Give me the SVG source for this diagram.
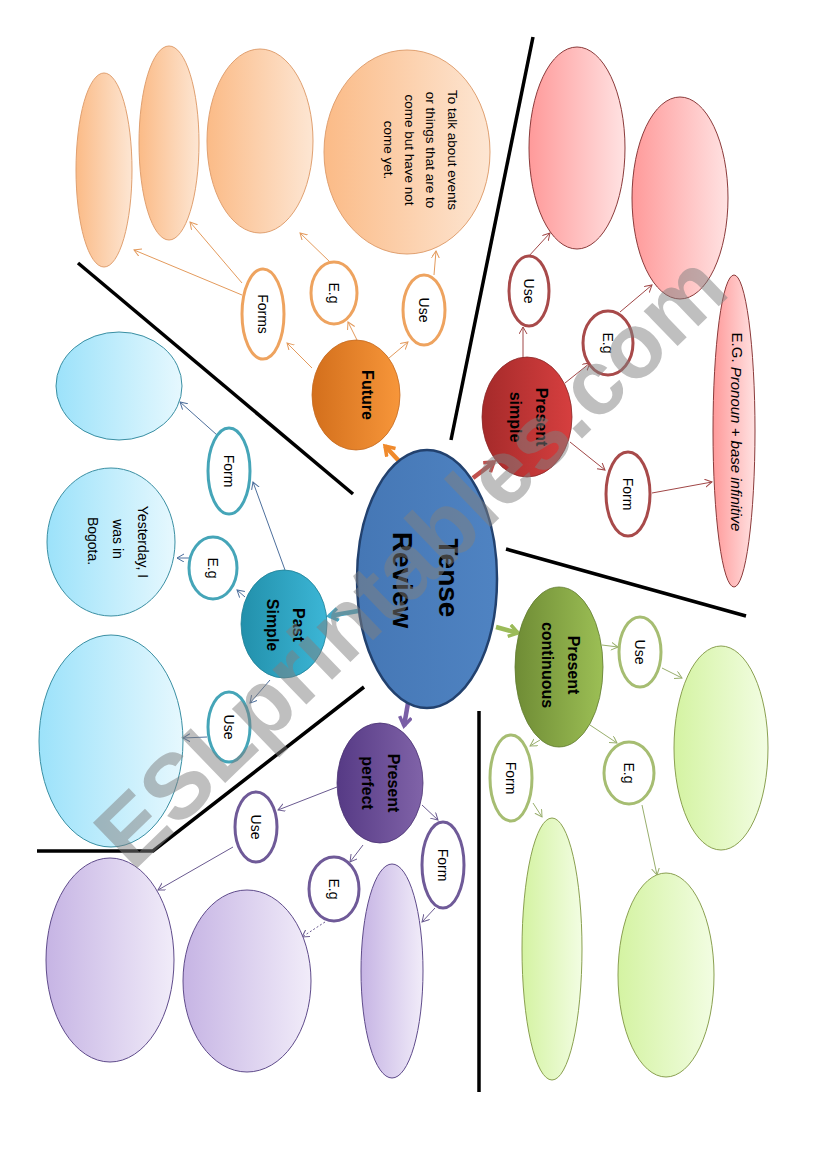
<svg xmlns="http://www.w3.org/2000/svg" width="826" height="1169" viewBox="0 0 826 1169">
<style>
  text { font-family: "Liberation Sans", Arial, sans-serif; fill: #000; }
  .lbl { font-size: 14px; text-anchor: middle; dominant-baseline: central; }
  .hd { font-size: 16px; font-weight: bold; text-anchor: middle; dominant-baseline: central; }
  .title { font-size: 28px; font-weight: bold; text-anchor: middle; dominant-baseline: central; }
  .note { font-size: 13.5px; text-anchor: middle; dominant-baseline: central; }
  .divider { fill: none; stroke: #000; stroke-width: 3.5; }
  .sm { fill: #fff; stroke-width: 3; }
  .thin { fill: none; stroke-width: 1; }
  .thick { fill: none; stroke-width: 4.5; }
  .or { stroke: #eea35f; }
  .rd { stroke: #a84a4a; }
  .cy { stroke: #45a5b8; }
  .gr { stroke: #a6bd72; }
  .pu { stroke: #6f5a98; }
  .lor { stroke: #e39a5c; }
  .lrd { stroke: #a04646; }
  .lcy { stroke: #4d6f9c; }
  .lgr { stroke: #98ae6c; }
  .lpu { stroke: #6a5a90; }
</style>
<defs>
  <linearGradient id="g-blue" x1="0" y1="0" x2="1" y2="0"><stop offset="0" stop-color="#4577b5"/><stop offset="1" stop-color="#4f83c2"/></linearGradient>
  <linearGradient id="g-or" x1="0" y1="0" x2="1" y2="0"><stop offset="0" stop-color="#d36f1c"/><stop offset="1" stop-color="#f7963a"/></linearGradient>
  <linearGradient id="g-rd" x1="0" y1="0" x2="1" y2="0"><stop offset="0" stop-color="#a52a2a"/><stop offset="1" stop-color="#d63f3f"/></linearGradient>
  <linearGradient id="g-cy" x1="0" y1="0" x2="1" y2="0"><stop offset="0" stop-color="#2290ab"/><stop offset="1" stop-color="#3cb6d6"/></linearGradient>
  <linearGradient id="g-gr" x1="0" y1="0" x2="1" y2="0"><stop offset="0" stop-color="#6f8c35"/><stop offset="1" stop-color="#9cbf55"/></linearGradient>
  <linearGradient id="g-pu" x1="0" y1="0" x2="1" y2="0"><stop offset="0" stop-color="#563a85"/><stop offset="1" stop-color="#8063a8"/></linearGradient>
  <linearGradient id="l-or" x1="0" y1="0" x2="1" y2="0"><stop offset="0" stop-color="#fbbb87"/><stop offset="1" stop-color="#fde6d3"/></linearGradient>
  <linearGradient id="l-rd" x1="0" y1="0" x2="1" y2="0"><stop offset="0" stop-color="#ff9a9a"/><stop offset="1" stop-color="#ffe2e2"/></linearGradient>
  <linearGradient id="l-cy" x1="0" y1="0" x2="1" y2="0"><stop offset="0" stop-color="#9ce2fa"/><stop offset="1" stop-color="#e6f8fe"/></linearGradient>
  <linearGradient id="l-gr" x1="0" y1="0" x2="1" y2="0"><stop offset="0" stop-color="#d4f3a2"/><stop offset="1" stop-color="#f2fde2"/></linearGradient>
  <linearGradient id="l-pu" x1="0" y1="0" x2="1" y2="0"><stop offset="0" stop-color="#c6b4e4"/><stop offset="1" stop-color="#f1ecf9"/></linearGradient>
  <marker id="a-or" markerUnits="userSpaceOnUse" markerWidth="10" markerHeight="10" refX="7" refY="4" orient="auto"><path d="M0,0 L7,4 L0,8" fill="none" stroke="#e39a5c" stroke-width="1"/></marker>
  <marker id="a-rd" markerUnits="userSpaceOnUse" markerWidth="10" markerHeight="10" refX="7" refY="4" orient="auto"><path d="M0,0 L7,4 L0,8" fill="none" stroke="#a04646" stroke-width="1"/></marker>
  <marker id="a-cy" markerUnits="userSpaceOnUse" markerWidth="10" markerHeight="10" refX="7" refY="4" orient="auto"><path d="M0,0 L7,4 L0,8" fill="none" stroke="#4d6f9c" stroke-width="1"/></marker>
  <marker id="a-gr" markerUnits="userSpaceOnUse" markerWidth="10" markerHeight="10" refX="7" refY="4" orient="auto"><path d="M0,0 L7,4 L0,8" fill="none" stroke="#98ae6c" stroke-width="1"/></marker>
  <marker id="a-pu" markerUnits="userSpaceOnUse" markerWidth="10" markerHeight="10" refX="7" refY="4" orient="auto"><path d="M0,0 L7,4 L0,8" fill="none" stroke="#6a5a90" stroke-width="1"/></marker>
  <marker id="t-or" markerUnits="userSpaceOnUse" markerWidth="14" markerHeight="16" refX="10" refY="7" orient="auto"><path d="M1,1 L10,7 L1,13" fill="none" stroke="#f08a2c" stroke-width="3.5"/></marker>
  <marker id="t-rd" markerUnits="userSpaceOnUse" markerWidth="14" markerHeight="16" refX="10" refY="7" orient="auto"><path d="M1,1 L10,7 L1,13" fill="none" stroke="#c0504d" stroke-width="3.5"/></marker>
  <marker id="t-cy" markerUnits="userSpaceOnUse" markerWidth="14" markerHeight="16" refX="10" refY="7" orient="auto"><path d="M1,1 L10,7 L1,13" fill="none" stroke="#45a9c6" stroke-width="3.5"/></marker>
  <marker id="t-gr" markerUnits="userSpaceOnUse" markerWidth="14" markerHeight="16" refX="10" refY="7" orient="auto"><path d="M1,1 L10,7 L1,13" fill="none" stroke="#9bbb59" stroke-width="3.5"/></marker>
  <marker id="t-pu" markerUnits="userSpaceOnUse" markerWidth="14" markerHeight="16" refX="10" refY="7" orient="auto"><path d="M1,1 L10,7 L1,13" fill="none" stroke="#7a5fa6" stroke-width="3.5"/></marker>
</defs>
<rect width="826" height="1169" fill="#fff"/>

<!-- dividers -->
<g id="dividers">
  <line class="divider" x1="533" y1="37" x2="451" y2="440"/>
  <line class="divider" x1="78" y1="263" x2="353" y2="494"/>
  <line class="divider" x1="506" y1="549" x2="746" y2="616"/>
  <line class="divider" x1="479" y1="711" x2="479" y2="1092"/>
  <polyline class="divider" points="37,851 153,851 364,687"/>
</g>

<!-- connectors -->
<g id="connectors">
  <!-- from center -->
  <line class="thick" stroke="#f08a2c" x1="399" y1="461" x2="385" y2="446" marker-end="url(#t-or)"/>
  <line class="thick" stroke="#c0504d" x1="473" y1="478" x2="494" y2="462" marker-end="url(#t-rd)"/>
  <line class="thick" stroke="#45a9c6" x1="358" y1="611" x2="329" y2="616" marker-end="url(#t-cy)"/>
  <line class="thick" stroke="#9bbb59" x1="496" y1="627" x2="518" y2="633" marker-end="url(#t-gr)"/>
  <line class="thick" stroke="#7a5fa6" x1="408" y1="703" x2="404" y2="726" marker-end="url(#t-pu)"/>
  <!-- future -->
  <line class="thin lor" x1="389" y1="358" x2="408" y2="342" marker-end="url(#a-or)"/>
  <line class="thin lor" x1="357" y1="340" x2="348" y2="322" marker-end="url(#a-or)"/>
  <line class="thin lor" x1="312" y1="368" x2="287" y2="343" marker-end="url(#a-or)"/>
  <line class="thin lor" x1="434" y1="275" x2="436" y2="251" marker-end="url(#a-or)"/>
  <line class="thin lor" x1="330" y1="262" x2="300" y2="233" marker-end="url(#a-or)"/>
  <line class="thin lor" x1="242" y1="283" x2="190" y2="222" marker-end="url(#a-or)"/>
  <line class="thin lor" x1="242" y1="295" x2="134" y2="250" marker-end="url(#a-or)"/>
  <!-- present simple -->
  <line class="thin lrd" x1="523" y1="358" x2="523" y2="327" marker-end="url(#a-rd)"/>
  <line class="thin lrd" x1="565" y1="383" x2="590" y2="363" marker-end="url(#a-rd)"/>
  <line class="thin lrd" x1="570" y1="442" x2="605" y2="470" marker-end="url(#a-rd)"/>
  <line class="thin lrd" x1="528" y1="257" x2="550" y2="233" marker-end="url(#a-rd)"/>
  <line class="thin lrd" x1="620" y1="312" x2="652" y2="285" marker-end="url(#a-rd)"/>
  <line class="thin lrd" x1="652" y1="493" x2="712" y2="482" marker-end="url(#a-rd)"/>
  <!-- past simple -->
  <line class="thin lcy" x1="285" y1="570" x2="253" y2="482" marker-end="url(#a-cy)"/>
  <line class="thin lcy" x1="245" y1="597" x2="237" y2="590" marker-end="url(#a-cy)"/>
  <line class="thin lcy" x1="270" y1="680" x2="250" y2="703" marker-end="url(#a-cy)"/>
  <line class="thin lcy" x1="217" y1="435" x2="180" y2="402" marker-end="url(#a-cy)"/>
  <line class="thin lcy" x1="189" y1="558" x2="177" y2="558" marker-end="url(#a-cy)"/>
  <line class="thin lcy" x1="207" y1="737" x2="183" y2="738" marker-end="url(#a-cy)"/>
  <!-- present continuous -->
  <line class="thin lgr" x1="602" y1="645" x2="618" y2="647" marker-end="url(#a-gr)"/>
  <line class="thin lgr" x1="590" y1="725" x2="617" y2="743" marker-end="url(#a-gr)"/>
  <line class="thin lgr" x1="540" y1="740" x2="530" y2="746" marker-end="url(#a-gr)"/>
  <line class="thin lgr" x1="662" y1="668" x2="682" y2="678" marker-end="url(#a-gr)"/>
  <line class="thin lgr" x1="642" y1="805" x2="657" y2="875" marker-end="url(#a-gr)"/>
  <line class="thin lgr" x1="533" y1="803" x2="542" y2="817" marker-end="url(#a-gr)"/>
  <!-- present perfect -->
  <line class="thin lpu" x1="337" y1="787" x2="278" y2="810" marker-end="url(#a-pu)"/>
  <line class="thin lpu" x1="363" y1="845" x2="350" y2="862" marker-end="url(#a-pu)"/>
  <line class="thin lpu" x1="422" y1="805" x2="438" y2="820" marker-end="url(#a-pu)"/>
  <line class="thin lpu" x1="233" y1="847" x2="158" y2="890" marker-end="url(#a-pu)"/>
  <line class="thin lpu" x1="325" y1="922" x2="302" y2="937" stroke-dasharray="2,2" marker-end="url(#a-pu)"/>
  <line class="thin lpu" x1="435" y1="908" x2="422" y2="922" marker-end="url(#a-pu)"/>
</g>

<!-- center -->
<g id="tense-review">
  <ellipse cx="427" cy="579" rx="70" ry="129" fill="url(#g-blue)" stroke="#22416e" stroke-width="2.5"/>
  <text class="title" transform="translate(448,578) rotate(90)">Tense</text>
  <text class="title" transform="translate(402,580) rotate(90)">Review</text>
</g>

<!-- future -->
<g id="future">
  <ellipse cx="356" cy="395" rx="44" ry="55" fill="url(#g-or)" stroke="#c46a20" stroke-width="0.8"/>
  <text class="hd" transform="translate(367,395) rotate(90)">Future</text>
</g>
<g id="future-use"><ellipse class="sm or" cx="424" cy="310" rx="21" ry="35"/><text class="lbl" transform="translate(424,310) rotate(90)">Use</text></g>
<g id="future-eg"><ellipse class="sm or" cx="334" cy="293" rx="23" ry="31"/><text class="lbl" transform="translate(334,293) rotate(90)">E.g</text></g>
<g id="future-forms"><ellipse class="sm or" cx="263" cy="314" rx="21" ry="45"/><text class="lbl" transform="translate(263,314) rotate(90)">Forms</text></g>
<g id="future-box1"><ellipse cx="104" cy="170" rx="28" ry="97" fill="url(#l-or)" stroke="#e0a070" stroke-width="1"/></g>
<g id="future-box2"><ellipse cx="169" cy="143" rx="30" ry="97" fill="url(#l-or)" stroke="#e0a070" stroke-width="1"/></g>
<g id="future-box3"><ellipse cx="260" cy="141" rx="53" ry="92" fill="url(#l-or)" stroke="#e0a070" stroke-width="1"/></g>
<g id="future-use-box">
  <ellipse cx="407" cy="152" rx="83" ry="102" fill="url(#l-or)" stroke="#e0a070" stroke-width="1"/>
  <text class="note" transform="translate(452,150) rotate(90)">To talk about events</text>
  <text class="note" transform="translate(430,150) rotate(90)">or things that are to</text>
  <text class="note" transform="translate(409,150) rotate(90)">come but have not</text>
  <text class="note" transform="translate(388,150) rotate(90)">come yet.</text>
</g>

<!-- present simple -->
<g id="present-simple">
  <ellipse cx="527" cy="417" rx="45" ry="60" fill="url(#g-rd)" stroke="#8a2a2a" stroke-width="0.8"/>
  <text class="hd" transform="translate(541,417) rotate(90)">Present</text>
  <text class="hd" transform="translate(515,417) rotate(90)">simple</text>
</g>
<g id="ps-use"><ellipse class="sm rd" cx="529" cy="291" rx="20" ry="35"/><text class="lbl" transform="translate(529,291) rotate(90)">Use</text></g>
<g id="ps-eg"><ellipse class="sm rd" cx="608" cy="343" rx="25" ry="32"/><text class="lbl" transform="translate(608,343) rotate(90)">E.g</text></g>
<g id="ps-form"><ellipse class="sm rd" cx="628" cy="494" rx="22" ry="42"/><text class="lbl" transform="translate(628,494) rotate(90)">Form</text></g>
<g id="ps-box1"><ellipse cx="577" cy="148" rx="48" ry="101" fill="url(#l-rd)" stroke="#8b3a3a" stroke-width="1"/></g>
<g id="ps-box2"><ellipse cx="680" cy="198" rx="48" ry="101" fill="url(#l-rd)" stroke="#8b3a3a" stroke-width="1"/></g>
<g id="ps-box3">
  <ellipse cx="734" cy="431" rx="21" ry="156" fill="url(#l-rd)" stroke="#8b3a3a" stroke-width="1"/>
  <text transform="translate(737,432) rotate(90)" style="font-size:15px" text-anchor="middle" dominant-baseline="central">E.G. <tspan font-style="italic">Pronoun + base infinitive</tspan></text>
</g>

<!-- past simple -->
<g id="past-simple">
  <ellipse cx="284" cy="624" rx="43" ry="54" fill="url(#g-cy)" stroke="#1d7f96" stroke-width="0.8"/>
  <text class="hd" transform="translate(298,625) rotate(90)">Past</text>
  <text class="hd" transform="translate(272,625) rotate(90)">Simple</text>
</g>
<g id="past-form"><ellipse class="sm cy" cx="229" cy="471" rx="21" ry="43"/><text class="lbl" transform="translate(229,471) rotate(90)">Form</text></g>
<g id="past-eg"><ellipse class="sm cy" cx="213" cy="568" rx="24" ry="31"/><text class="lbl" transform="translate(213,568) rotate(90)">E.g</text></g>
<g id="past-use"><ellipse class="sm cy" cx="229" cy="727" rx="21" ry="35"/><text class="lbl" transform="translate(229,727) rotate(90)">Use</text></g>
<g id="past-box1"><ellipse cx="119" cy="386" rx="63" ry="54" fill="url(#l-cy)" stroke="#3a8fa3" stroke-width="1"/></g>
<g id="past-box2">
  <ellipse cx="111" cy="542" rx="64" ry="74" fill="url(#l-cy)" stroke="#3a8fa3" stroke-width="1"/>
  <text class="lbl" transform="translate(143,542) rotate(90)">Yesterday, I</text>
  <text class="lbl" transform="translate(118,539) rotate(90)">was in</text>
  <text class="lbl" transform="translate(93,541) rotate(90)">Bogota.</text>
</g>
<g id="past-box3"><ellipse cx="111" cy="741" rx="72" ry="106" fill="url(#l-cy)" stroke="#3a8fa3" stroke-width="1"/></g>

<!-- present continuous -->
<g id="present-continuous">
  <ellipse cx="559" cy="667" rx="44" ry="80" fill="url(#g-gr)" stroke="#5f7a2e" stroke-width="0.8"/>
  <text class="hd" transform="translate(573,665) rotate(90)">Present</text>
  <text class="hd" transform="translate(547,665) rotate(90)">continuous</text>
</g>
<g id="pc-use"><ellipse class="sm gr" cx="640" cy="652" rx="21" ry="35"/><text class="lbl" transform="translate(640,652) rotate(90)">Use</text></g>
<g id="pc-eg"><ellipse class="sm gr" cx="629" cy="773" rx="25" ry="31"/><text class="lbl" transform="translate(629,773) rotate(90)">E.g</text></g>
<g id="pc-form"><ellipse class="sm gr" cx="511" cy="778" rx="21" ry="43"/><text class="lbl" transform="translate(511,778) rotate(90)">Form</text></g>
<g id="pc-box1"><ellipse cx="721" cy="748" rx="47" ry="102" fill="url(#l-gr)" stroke="#8aa050" stroke-width="1"/></g>
<g id="pc-box2"><ellipse cx="552" cy="949" rx="30" ry="131" fill="url(#l-gr)" stroke="#8aa050" stroke-width="1"/></g>
<g id="pc-box3"><ellipse cx="666" cy="975" rx="48" ry="102" fill="url(#l-gr)" stroke="#8aa050" stroke-width="1"/></g>

<!-- present perfect -->
<g id="present-perfect">
  <ellipse cx="380" cy="783" rx="43" ry="60" fill="url(#g-pu)" stroke="#4a3272" stroke-width="0.8"/>
  <text class="hd" transform="translate(393,783) rotate(90)">Present</text>
  <text class="hd" transform="translate(367,783) rotate(90)">perfect</text>
</g>
<g id="pp-use"><ellipse class="sm pu" cx="256" cy="827" rx="21" ry="35"/><text class="lbl" transform="translate(256,827) rotate(90)">Use</text></g>
<g id="pp-eg"><ellipse class="sm pu" cx="334" cy="889" rx="25" ry="32"/><text class="lbl" transform="translate(334,889) rotate(90)">E.g</text></g>
<g id="pp-form"><ellipse class="sm pu" cx="443" cy="865" rx="21" ry="43"/><text class="lbl" transform="translate(443,865) rotate(90)">Form</text></g>
<g id="pp-box1"><ellipse cx="110" cy="960" rx="64" ry="102" fill="url(#l-pu)" stroke="#5f4b8b" stroke-width="1"/></g>
<g id="pp-box2"><ellipse cx="247" cy="981" rx="64" ry="91" fill="url(#l-pu)" stroke="#5f4b8b" stroke-width="1"/></g>
<g id="pp-box3"><ellipse cx="392" cy="971" rx="31" ry="107" fill="url(#l-pu)" stroke="#5f4b8b" stroke-width="1"/></g>

<!-- watermark -->
<g id="watermark" opacity="0.5">
  <text transform="translate(410,560) rotate(-44)" style="font-size:92px;font-weight:bold;fill:#808080" text-anchor="middle" dominant-baseline="central">ESLprintables.com</text>
</g>
</svg>
